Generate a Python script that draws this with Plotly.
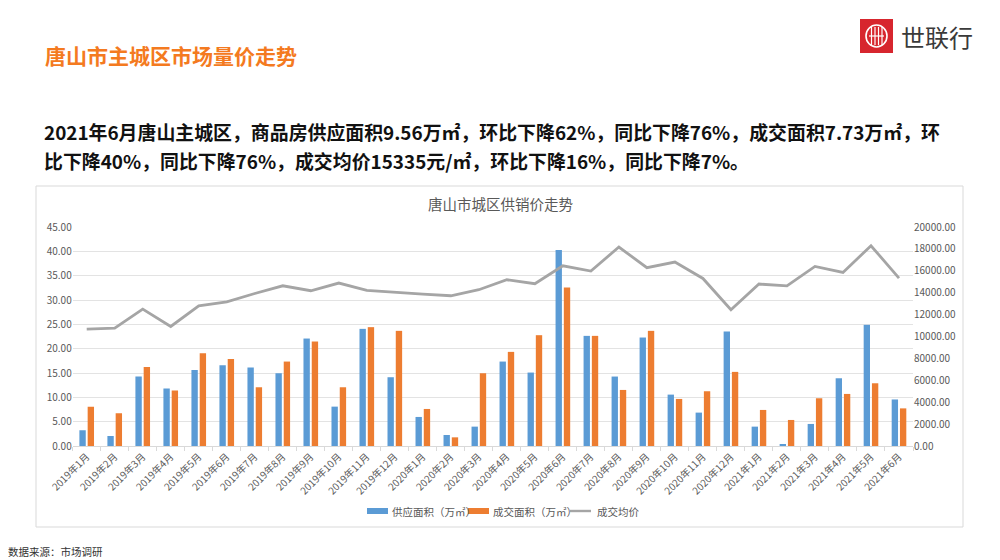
import plotly.graph_objects as go

# ---------------- data ----------------
months = ["2019年1月", "2019年2月", "2019年3月", "2019年4月", "2019年5月", "2019年6月",
          "2019年7月", "2019年8月", "2019年9月", "2019年10月", "2019年11月", "2019年12月",
          "2020年1月", "2020年2月", "2020年3月", "2020年4月", "2020年5月", "2020年6月",
          "2020年7月", "2020年8月", "2020年9月", "2020年10月", "2020年11月", "2020年12月",
          "2021年1月", "2021年2月", "2021年3月", "2021年4月", "2021年5月", "2021年6月"]
supply_area = [3.22, 2.06, 14.27, 11.80, 15.64, 16.60, 16.12, 14.95, 22.08, 8.09, 24.07, 14.13,
               5.97, 2.26, 3.98, 17.35, 15.09, 40.26, 22.63, 14.27, 22.29, 10.56, 6.86, 23.53,
               3.98, 0.27, 4.53, 13.92, 24.90, 9.56]
deal_area = [8.09, 6.72, 16.25, 11.39, 19.07, 17.90, 12.07, 17.35, 21.47, 12.07, 24.42, 23.66,
             7.61, 1.78, 14.95, 19.34, 22.77, 32.58, 22.63, 11.52, 23.66, 9.67, 11.25, 15.23,
             7.41, 5.35, 9.81, 10.70, 12.89, 7.73]
avg_price = [10670, 10760, 12500, 10915, 12805, 13170, 13930, 14630, 14180, 14880, 14210, 14020,
             13870, 13720, 14270, 15180, 14820, 16460, 15980, 18170, 16280, 16800, 15300, 12440,
             14790, 14630, 16400, 15850, 18290, 15335]
series_names = ["供应面积（万㎡）", "成交面积（万㎡）", "成交均价"]
left_ticks = [0, 5, 10, 15, 20, 25, 30, 35, 40, 45]
right_ticks = [0, 2000, 4000, 6000, 8000, 10000, 12000, 14000, 16000, 18000, 20000]

BLUE = "#5B9BD5"
ORANGE = "#ED7D31"
GRAY = "#A5A5A5"
TXT = "#595959"
FONT = "Noto Sans CJK SC"
W, H = 1000, 560


def px(x):
    return x / W


def py(y):
    return 1 - y / H


fig = go.Figure()
fig.add_trace(go.Bar(x=months, y=supply_area, name=series_names[0], marker_color=BLUE,
                     marker_line_width=0, showlegend=False))
fig.add_trace(go.Bar(x=months, y=deal_area, name=series_names[1], marker_color=ORANGE,
                     marker_line_width=0, showlegend=False))
fig.add_trace(go.Scatter(x=months, y=avg_price, name=series_names[2], mode="lines",
                         line=dict(color=GRAY, width=2.8), yaxis="y2", showlegend=False))

shapes = []
annotations = []

# chart frame
shapes.append(dict(type="rect", xref="paper", yref="paper", x0=px(36), x1=px(963),
                   y0=py(527), y1=py(186), line=dict(color="#D9D9D9", width=1),
                   fillcolor="rgba(0,0,0,0)", layer="below"))

# logo
shapes.append(dict(type="rect", xref="paper", yref="paper", x0=px(860), x1=px(893),
                   y0=py(53), y1=py(19), line=dict(width=0), fillcolor="#D7262E"))
shapes.append(dict(type="circle", xref="paper", yref="paper", x0=px(866), x1=px(887),
                   y0=py(47), y1=py(25), line=dict(color="white", width=1.6)))
for lx in [871.5, 875, 878.5, 882]:
    shapes.append(dict(type="line", xref="paper", yref="paper", x0=px(lx), x1=px(lx),
                       y0=py(45), y1=py(27), line=dict(color="white", width=1.2)))
shapes.append(dict(type="line", xref="paper", yref="paper", x0=px(869), x1=px(884),
                   y0=py(36), y1=py(36), line=dict(color="white", width=1.2)))
annotations.append(dict(text="世联行", xref="paper", yref="paper", x=px(899), y=py(37),
                        xanchor="left", yanchor="middle", showarrow=False,
                        font=dict(family=FONT, size=24, color="#3A3A3A")))

# page title
annotations.append(dict(text="<b>唐山市主城区市场量价走势</b>", xref="paper", yref="paper",
                        x=px(43), y=py(55), xanchor="left", yanchor="middle", showarrow=False,
                        font=dict(family=FONT, size=21, color="#F47A20")))

# paragraph
annotations.append(dict(text="<b>2021年6月唐山主城区，商品房供应面积9.56万㎡，环比下降62%，同比下降76%，成交面积7.73万㎡，环</b>",
                        xref="paper", yref="paper", x=px(42), y=py(131), xanchor="left",
                        yanchor="middle", showarrow=False,
                        font=dict(family=FONT, size=18.9, color="#111111")))
annotations.append(dict(text="<b>比下降40%，同比下降76%，成交均价15335元/㎡，环比下降16%，同比下降7%。</b>",
                        xref="paper", yref="paper", x=px(42), y=py(160), xanchor="left",
                        yanchor="middle", showarrow=False,
                        font=dict(family=FONT, size=18.9, color="#111111")))

# chart title
annotations.append(dict(text="唐山市城区供销价走势", xref="paper", yref="paper", x=px(500), y=py(203),
                        xanchor="center", yanchor="middle", showarrow=False,
                        font=dict(family=FONT, size=14.5, color=TXT)))

# custom legend
leg_y = 511
LEGF = 10.5
shapes.append(dict(type="rect", xref="paper", yref="paper", x0=px(367), x1=px(388),
                   y0=py(leg_y + 3), y1=py(leg_y - 3), line=dict(width=0), fillcolor=BLUE))
annotations.append(dict(text=series_names[0], xref="paper", yref="paper", x=px(390), y=py(leg_y),
                        xanchor="left", yanchor="middle", showarrow=False,
                        font=dict(family=FONT, size=LEGF, color=TXT)))
shapes.append(dict(type="rect", xref="paper", yref="paper", x0=px(468), x1=px(489),
                   y0=py(leg_y + 3), y1=py(leg_y - 3), line=dict(width=0), fillcolor=ORANGE))
annotations.append(dict(text=series_names[1], xref="paper", yref="paper", x=px(491), y=py(leg_y),
                        xanchor="left", yanchor="middle", showarrow=False,
                        font=dict(family=FONT, size=LEGF, color=TXT)))
shapes.append(dict(type="line", xref="paper", yref="paper", x0=px(570), x1=px(591),
                   y0=py(leg_y), y1=py(leg_y), line=dict(color=GRAY, width=2.4)))
annotations.append(dict(text=series_names[2], xref="paper", yref="paper", x=px(595), y=py(leg_y),
                        xanchor="left", yanchor="middle", showarrow=False,
                        font=dict(family=FONT, size=LEGF, color=TXT)))

# footer
annotations.append(dict(text="数据来源：市场调研", xref="paper", yref="paper", x=px(6), y=py(551),
                        xanchor="left", yanchor="middle", showarrow=False,
                        font=dict(family=FONT, size=10.5, color="#333333")))

fig.update_layout(
    width=W, height=H,
    margin=dict(l=0, r=0, t=0, b=0),
    paper_bgcolor="white", plot_bgcolor="white",
    font=dict(family=FONT, color=TXT),
    barmode="group", bargap=0.41, bargroupgap=0.23,
    showlegend=False,
    xaxis=dict(domain=[px(72.7), px(913)], type="category", range=[-0.5, 29.5],
               tickangle=-45, tickfont=dict(size=10, color=TXT), ticks="outside",
               tickson="boundaries", ticklen=4, tickcolor="#D9D9D9", showline=True,
               linecolor="#D9D9D9", linewidth=1, showgrid=False, automargin=False),
    yaxis=dict(domain=[py(446), py(227)], range=[0, 45], tickvals=left_ticks,
               tickformat=".2f", tickfont=dict(size=10, color=TXT), showgrid=True,
               gridcolor="#E3E3E3", gridwidth=1, zeroline=False, showline=False,
               automargin=False, ticks=""),
    yaxis2=dict(range=[0, 20000], tickvals=right_ticks, tickformat=".2f", overlaying="y",
                side="right", anchor="x", tickfont=dict(size=10, color=TXT), showgrid=False,
                zeroline=False, showline=False, automargin=False, ticks=""),
    shapes=shapes,
    annotations=annotations,
)

fig.write_html("out.html")
